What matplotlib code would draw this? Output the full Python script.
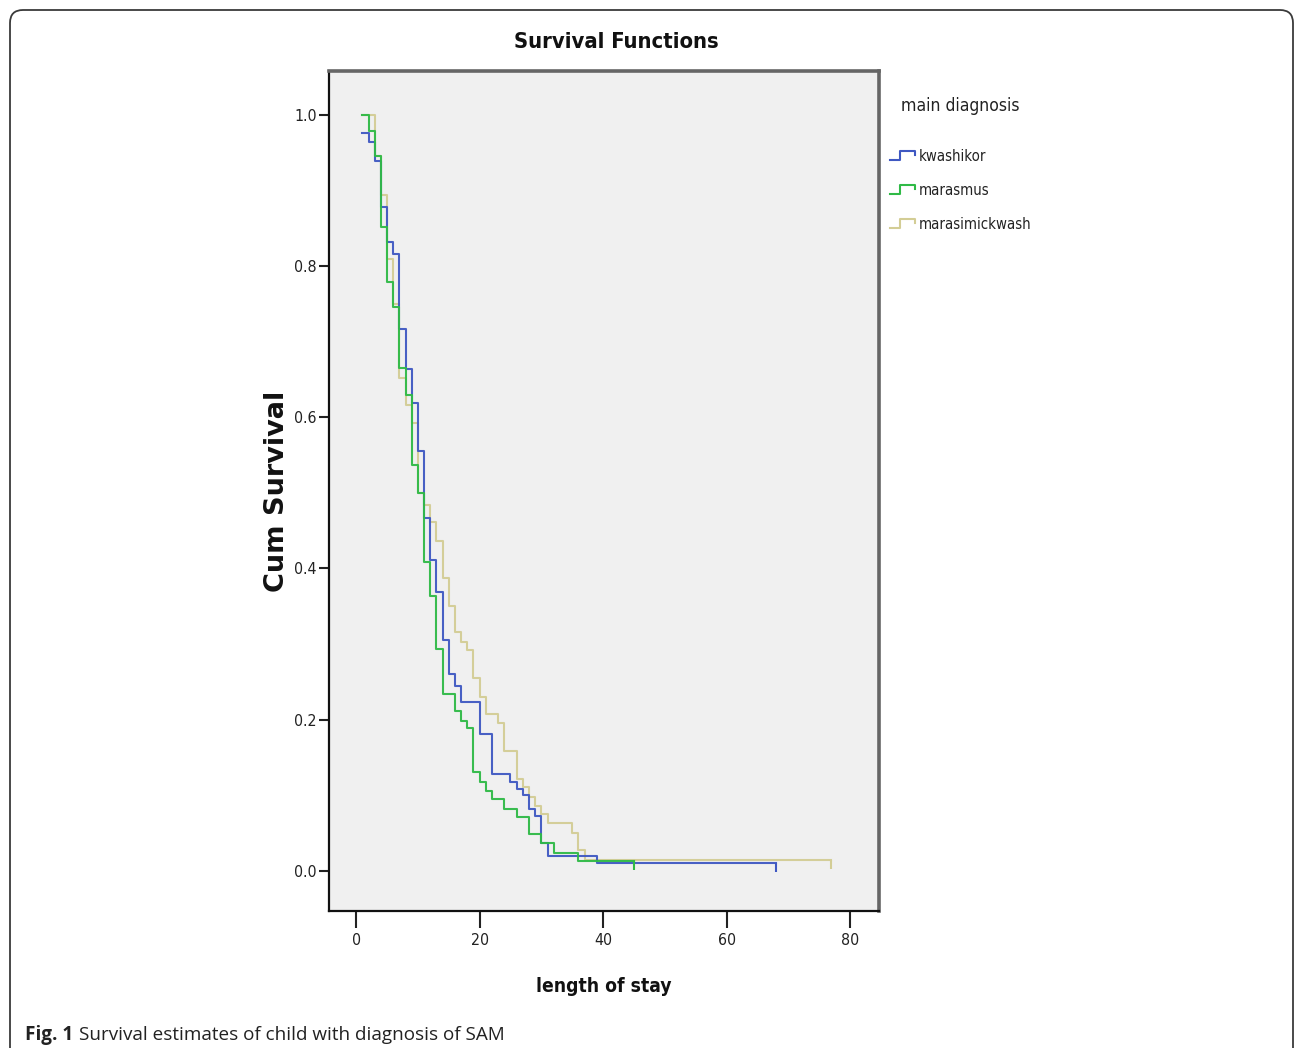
import matplotlib
matplotlib.use("Agg")
import matplotlib.pyplot as plt
from matplotlib import font_manager as fm
from matplotlib.lines import Line2D
from matplotlib.legend_handler import HandlerBase
from matplotlib.patches import FancyBboxPatch

# ---------------- data ----------------
title = "Survival Functions"
xlabel = "length of stay"
ylabel = "Cum Survival"
legend_title = "main diagnosis"
caption_bold = "Fig. 1"
caption_text = "Survival estimates of child with diagnosis of SAM"

groups = ["kwashikor", "marasmus", "marasimickwash"]

kw_t = [1, 2, 3, 4, 5, 6, 7, 8, 9, 10, 11, 12, 13, 14, 15, 16, 17, 20, 22,
        25, 26, 27, 28, 29, 30, 31, 39, 68]
kw_s = [0.976, 0.964, 0.939, 0.878, 0.832, 0.816, 0.717, 0.664, 0.619, 0.555,
        0.467, 0.411, 0.369, 0.306, 0.260, 0.244, 0.224, 0.181, 0.128, 0.117,
        0.108, 0.100, 0.082, 0.073, 0.037, 0.020, 0.011, 0.011]

ma_t = [1, 2, 3, 4, 5, 6, 7, 8, 9, 10, 11, 12, 13, 14, 16, 17, 18, 19, 20, 21,
        22, 24, 26, 28, 30, 32, 36, 45]
ma_s = [1.0, 0.978, 0.946, 0.852, 0.779, 0.746, 0.665, 0.630, 0.537, 0.500,
        0.409, 0.364, 0.294, 0.234, 0.212, 0.198, 0.189, 0.131, 0.118, 0.106,
        0.095, 0.082, 0.071, 0.049, 0.037, 0.024, 0.013, 0.013]

mk_t = [1, 3, 4, 5, 6, 7, 8, 9, 10, 11, 12, 13, 14, 15, 16, 17, 18, 19, 20, 21,
        23, 24, 26, 27, 28, 29, 30, 31, 35, 36, 37, 77]
mk_s = [1.0, 0.946, 0.894, 0.810, 0.750, 0.652, 0.616, 0.592, 0.500, 0.484,
        0.461, 0.436, 0.388, 0.350, 0.316, 0.303, 0.292, 0.255, 0.230, 0.208,
        0.196, 0.159, 0.122, 0.111, 0.098, 0.086, 0.075, 0.063, 0.050, 0.028,
        0.015, 0.015]

xticks = [0, 20, 40, 60, 80]
yticks = [0.0, 0.2, 0.4, 0.6, 0.8, 1.0]
ytick_labels = ["0.0", "0.2", "0.4", "0.6", "0.8", "1.0"]

colors = {"kwashikor": "#3f58c2", "marasmus": "#2fba46", "marasimickwash": "#d3cd95"}

# ---------------- fonts ----------------
names = {f.name for f in fm.fontManager.ttflist}
if "Liberation Sans Narrow" in names:
    NARROW = dict(family="Liberation Sans Narrow")
    nscale = 1.0
elif any(f.name == "DejaVu Sans" and "condensed" in str(f.stretch).lower()
         for f in fm.fontManager.ttflist):
    NARROW = dict(family="DejaVu Sans", stretch="condensed")
    nscale = 0.85
elif "Roboto Condensed" in names:
    NARROW = dict(family="Roboto Condensed")
    nscale = 0.95
else:
    NARROW = dict(family="Liberation Sans")
    nscale = 0.85

W, H = 1295, 1048
fig = plt.figure(figsize=(W / 100, H / 100), dpi=100)
fig.patch.set_facecolor("white")

# outer rounded frame
frame = FancyBboxPatch((0.10, -0.3), 12.83, 10.38 + 0.3,
                       boxstyle="round,pad=0,rounding_size=0.13",
                       transform=fig.dpi_scale_trans, fill=False,
                       edgecolor="#3a3a3a", linewidth=1.3, clip_on=False)
fig.add_artist(frame)

ax = fig.add_axes([329 / W, 1 - 911 / H, (879 - 329) / W, (911 - 71) / H])
ax.set_facecolor("#f0f0f0")

series = [("marasimickwash", mk_t, mk_s), ("kwashikor", kw_t, kw_s),
          ("marasmus", ma_t, ma_s)]
handles = {}
for name, t, s in series:
    ln, = ax.step(t, s, where="post", color=colors[name], lw=1.5, alpha=0.95)
    ax.vlines(t[-1], s[-1] - 0.012, s[-1], color=colors[name], lw=1.5)
    handles[name] = ln

ax.set_xlim(-4.4, 84.7)
ax.set_ylim(-0.053, 1.058)
ax.set_xticks(xticks)
ax.set_xticklabels([str(v) for v in xticks])
ax.set_yticks(yticks)
ax.set_yticklabels(ytick_labels)

tick_fs = 13.5 * nscale
for lab in ax.get_xticklabels() + ax.get_yticklabels():
    lab.set_fontproperties(fm.FontProperties(size=tick_fs, **NARROW))
    lab.set_color("#222222")
ax.tick_params(axis="x", length=12, width=1.5, color="#222222", pad=4)
ax.tick_params(axis="y", length=7, width=1.5, color="#222222", pad=2)

for sp in ["left", "bottom"]:
    ax.spines[sp].set_color("#111111")
    ax.spines[sp].set_linewidth(1.6)
for sp in ["top", "right"]:
    ax.spines[sp].set_color("#666666")
    ax.spines[sp].set_linewidth(2.6)

ax.set_xlabel(xlabel, fontproperties=fm.FontProperties(size=16.3 * nscale, weight="bold", **NARROW),
              va="center", color="#111111")
ax.xaxis.set_label_coords(0.5, -(987 - 911) / 840)
ax.set_ylabel(ylabel, fontproperties=fm.FontProperties(family="DejaVu Sans", size=19.5, weight="bold"),
              va="center", color="#111111")
ax.yaxis.set_label_coords((277 - 329) / 550, 0.5)

fig.text(616 / W, 1 - 42 / H, title, ha="center", va="center", color="#111111",
         fontproperties=fm.FontProperties(size=18.5 * nscale, weight="bold", **NARROW))


# legend with step-shaped handles
class StepHandler(HandlerBase):
    def create_artists(self, legend, orig_handle, xdescent, ydescent,
                       width, height, fontsize, trans):
        fx = [0.0, 0.37, 0.37, 0.93, 0.93]
        fy = [0.1, 0.1, 0.95, 0.95, 0.6]
        xs = [-xdescent + v * width for v in fx]
        ys = [-ydescent + v * height for v in fy]
        ln = Line2D(xs, ys, color=orig_handle.get_color(), lw=1.5,
                    transform=trans)
        return [ln]


leg_fs = 12.6 * nscale
leg_handles = [handles[g] for g in groups]
leg = fig.legend(leg_handles, groups, loc="upper left",
                 bbox_to_anchor=(890 / W, 1 - 149 / H),
                 bbox_transform=fig.transFigure, frameon=False,
                 prop=fm.FontProperties(size=leg_fs, **NARROW),
                 handlelength=1.8, handleheight=0.75, handletextpad=0.12,
                 labelspacing=1.27, borderpad=0, borderaxespad=0,
                 handler_map={Line2D: StepHandler()})
for txt in leg.get_texts():
    txt.set_color("#222222")

fig.text(901 / W, 1 - 106 / H, legend_title, ha="left", va="center", color="#222222",
         fontproperties=fm.FontProperties(size=14.8 * nscale, **NARROW))

# caption
cap_y = 1 - 1040 / H
t1 = fig.text(25 / W, cap_y, caption_bold, ha="left", va="baseline", color="#222222",
              fontproperties=fm.FontProperties(family="Open Sans", size=13.6, weight="bold"))
fig.canvas.draw()
bb = t1.get_window_extent(renderer=fig.canvas.get_renderer())
fig.text((bb.x1 + 6) / W, cap_y, caption_text, ha="left", va="baseline", color="#222222",
         fontproperties=fm.FontProperties(family="Open Sans", size=13.6))

fig.savefig("out.png", dpi=100)
